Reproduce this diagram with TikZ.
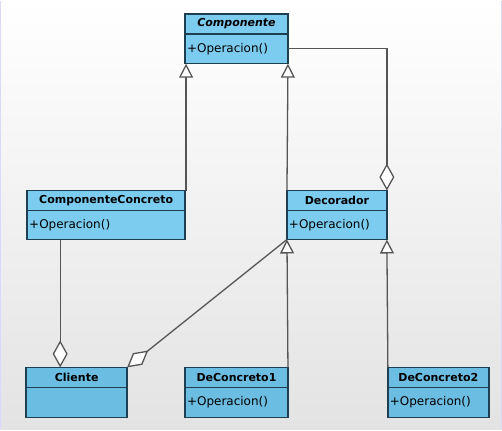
\documentclass[tikz,border=0pt]{standalone}
\usepackage{fontspec}
\setmainfont{DejaVu Sans}
\usetikzlibrary{positioning,arrows.meta}
\definecolor{clsfill}{RGB}{124,204,240}
\definecolor{clsfilldk}{RGB}{108,189,226}
\definecolor{clsline}{RGB}{30,62,82}
\definecolor{linkgray}{RGB}{85,85,85}
\tikzset{
  clshead/.style = {draw=clsline, fill=clsfill, line width=1.6pt, minimum height=20pt,
                    inner sep=0pt, outer sep=0pt, font=\fontsize{11}{13}\selectfont\bfseries},
  clsbody/.style = {draw=clsline, fill=clsfill, line width=1.6pt, minimum height=30pt,
                    inner sep=2pt, outer sep=0pt, align=left, font=\fontsize{12}{14}\selectfont},
  gen/.style = {draw=linkgray, line width=1.3pt, -{Triangle[open, length=14pt, width=14pt, fill=white]}},
  agg/.style = {draw=linkgray, line width=1.3pt, -{Diamond[open, length=27pt, width=15pt, fill=white]}}
}
\begin{document}
\begin{tikzpicture}[x=1pt, y=-1pt]
% fondo
\shade[top color=white, bottom color=black!11] (0,0) rectangle (502,429);
\draw[blue!15, line width=1.5pt] (0.5,0) -- (0.5,429) (501.5,0) -- (501.5,429);
\useasboundingbox (0,0) rectangle (502,429);

% Componente
\node[clshead, minimum width=103pt, anchor=north west] (compH) at (185,13) {\itshape Componente};
\node[clsbody, minimum width=103pt, text width=99pt, below=0pt of compH] (compB) {+Operacion()};

% ComponenteConcreto
\node[clshead, minimum width=158pt, anchor=north west] (ccH) at (27,190) {ComponenteConcreto};
\node[clsbody, minimum width=158pt, text width=154pt, minimum height=29pt, below=0pt of ccH] (ccB) {+Operacion()};

% Decorador
\node[clshead, minimum width=100pt, anchor=north west] (decH) at (287,190) {Decorador};
\node[clsbody, minimum width=100pt, text width=96pt, minimum height=29pt, below=0pt of decH] (decB) {+Operacion()};

% Cliente
\node[clshead, fill=clsfilldk, minimum width=101pt, anchor=north west] (cliH) at (26,367) {Cliente};
\node[clsbody, fill=clsfilldk, minimum width=101pt, text width=97pt, below=0pt of cliH] (cliB) {};

% DeConcreto1
\node[clshead, fill=clsfilldk, minimum width=103pt, anchor=north west] (dc1H) at (185,367) {DeConcreto1};
\node[clsbody, fill=clsfilldk, minimum width=103pt, text width=99pt, below=0pt of dc1H] (dc1B) {+Operacion()};

% DeConcreto2
\node[clshead, fill=clsfilldk, minimum width=101pt, anchor=north west] (dc2H) at (388,367) {DeConcreto2};
\node[clsbody, fill=clsfilldk, minimum width=101pt, text width=97pt, below=0pt of dc2H] (dc2B) {+Operacion()};

% herencia
\draw[gen] ([xshift=1pt]ccH.north east) -- ([xshift=1pt]compB.south west);
\draw[gen] (decH.north west) -- (compB.south east);
\draw[gen] (dc1H.north east) -- (decB.south west);
\draw[gen] (dc2H.north west) -- (decB.south east);

% agregacion
\draw[agg] (compB.east) -| (decH.north east);
\draw[agg] ([xshift=33pt]ccB.south west) -- ([xshift=34pt]cliH.north west);
\draw[agg] (decB.south west) -- (cliH.north east);

\end{tikzpicture}
\end{document}
